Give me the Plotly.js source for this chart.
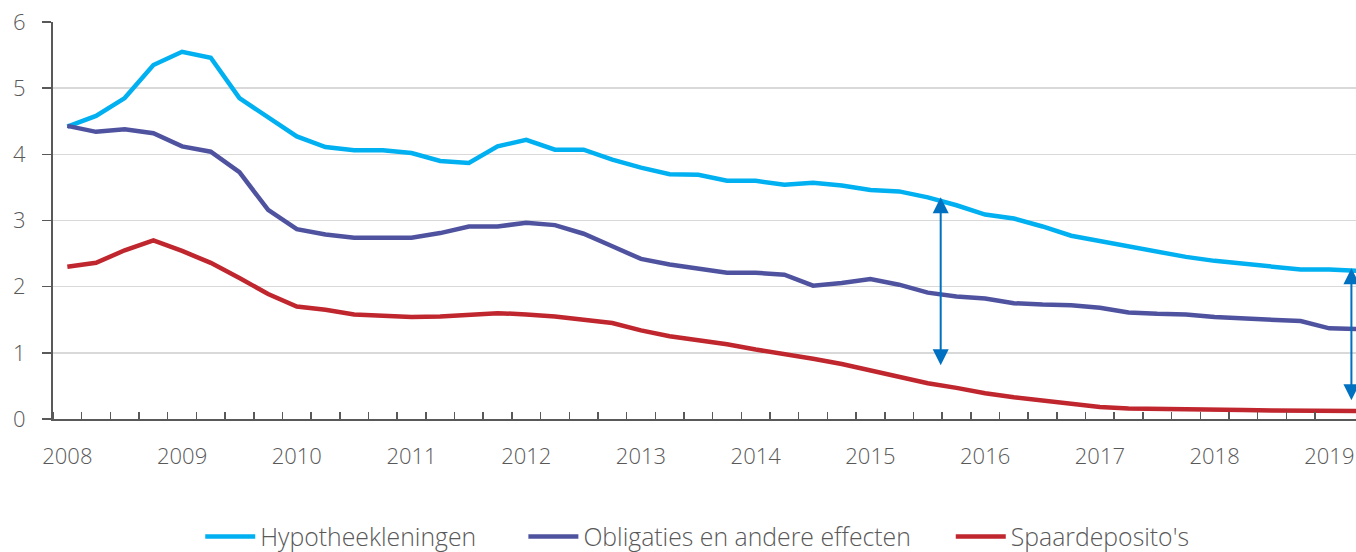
<!DOCTYPE html>
<html>
<head>
<meta charset="utf-8">
<script src="https://cdn.plot.ly/plotly-3.0.1.min.js"></script>
<style>
html,body{margin:0;padding:0;background:#fff;overflow:hidden;}
#chart{width:1356px;height:552px;}
</style>
</head>
<body>
<div id="chart"></div>
<script>
// Quarterly data 2008Q1 .. 2019Q2 (46 quarters)
const quarters = [];
for (let y = 2008; y <= 2019; y++) { for (let q = 1; q <= 4; q++) { if (y === 2019 && q > 2) break; quarters.push(y + 'Q' + q); } }

const yearLabels = ['2008','2009','2010','2011','2012','2013','2014','2015','2016','2017','2018','2019'];

const hypotheekleningen = [
  4.42, 4.58, 4.85, 5.35, 5.55, 5.46, 4.85, 4.55, 4.27, 4.11,
  4.06, 4.06, 4.02, 3.90, 3.87, 4.12, 4.22, 4.07, 4.07, 3.92,
  3.80, 3.70, 3.69, 3.60, 3.60, 3.54, 3.57, 3.53, 3.46, 3.44,
  3.35, 3.23, 3.09, 3.03, 2.91, 2.77, 2.69, 2.61, 2.52, 2.45,
  2.39, 2.35, 2.31, 2.26, 2.26, 2.24
];
const obligaties = [
  4.43, 4.34, 4.38, 4.32, 4.12, 4.04, 3.73, 3.16, 2.87, 2.79,
  2.74, 2.74, 2.74, 2.81, 2.91, 2.91, 2.965, 2.93, 2.80, 2.61,
  2.42, 2.335, 2.27, 2.21, 2.21, 2.18, 2.015, 2.055, 2.115, 2.03,
  1.91, 1.85, 1.82, 1.75, 1.73, 1.72, 1.68, 1.61, 1.59, 1.58,
  1.54, 1.52, 1.49, 1.48, 1.37, 1.36
];
const spaardeposito = [
  2.30, 2.36, 2.55, 2.70, 2.54, 2.36, 2.13, 1.89, 1.70, 1.65,
  1.58, 1.56, 1.54, 1.55, 1.58, 1.60, 1.58, 1.55, 1.50, 1.45,
  1.34, 1.25, 1.19, 1.13, 1.05, 0.985, 0.91, 0.83, 0.73, 0.63,
  0.54, 0.47, 0.39, 0.33, 0.28, 0.23, 0.18, 0.16, 0.15, 0.145,
  0.14, 0.135, 0.13, 0.13, 0.125, 0.12
];

const seriesNames = ['Hypotheekleningen', 'Obligaties en andere effecten', "Spaardeposito's"];
const seriesColors = ['#00B0F0', '#4F539F', '#C0262D'];

// Gap arrows: [quarter index position, top value, bottom value]
const gapArrows = [
  [30.45, 3.35, 0.79],
  [44.77, 2.28, 0.26]
];

const legendIds = ['legend', 'legend2', 'legend3'];
const legendX = [0.113, 0.361, 0.689];

const idx = quarters.map((_, i) => i);
const allSeries = [hypotheekleningen, obligaties, spaardeposito];
const traces = allSeries.map((vals, k) => ({
  x: idx, y: vals, type: 'scatter', mode: 'lines', name: seriesNames[k],
  line: {color: seriesColors[k], width: 4.5},
  legend: legendIds[k],
  text: quarters, hoverinfo: 'text+y'
}));

const majorVals = yearLabels.map((_, i) => i * 4);
const minorVals = [];
for (let i = 0; i < quarters.length - 1; i++) minorVals.push(i - 0.5);

const font = {family: '"Open Sans", "Noto Sans", sans-serif', color: '#595959', size: 22, weight: 300};
const legFont = Object.assign({}, font, {size: 24.8});

const annotations = gapArrows.map(a => ({
  x: a[0], y: a[1], ax: a[0], ay: a[2], xref: 'x', yref: 'y', axref: 'x', ayref: 'y',
  text: '', showarrow: true, arrowside: 'end+start', arrowhead: 2, arrowsize: 1.6,
  arrowwidth: 2, arrowcolor: '#0070C0'
}));

const layout = {
  width: 1356, height: 552,
  margin: {l: 53, r: 0, t: 22, b: 133, autoexpand: false},
  paper_bgcolor: '#fff', plot_bgcolor: '#fff',
  font: font,
  showlegend: true,
  xaxis: {
    range: [-0.5, 44.93], showgrid: false, zeroline: false,
    showline: true, linecolor: '#595959', linewidth: 2,
    tickmode: 'array', tickvals: majorVals, ticktext: yearLabels,
    ticks: '', ticklabelstandoff: 17, tickfont: font,
    minor: {tickmode: 'array', tickvals: minorVals, ticks: 'inside', ticklen: 7, tickwidth: 1.5, tickcolor: '#595959', showgrid: false}
  },
  yaxis: {
    range: [0, 6], dtick: 1, showgrid: true, gridcolor: '#D9D9D9', gridwidth: 1.5,
    zeroline: false, showline: true, linecolor: '#595959', linewidth: 2,
    ticks: 'outside', ticklen: 9, tickwidth: 1.5, tickcolor: '#595959',
    ticklabelstandoff: 12, tickfont: font
  },
  annotations: annotations
};
legendIds.forEach((id, k) => {
  layout[id] = {orientation: 'h', x: legendX[k], xanchor: 'left', y: -0.297, yanchor: 'middle', font: legFont, itemwidth: 50, bgcolor: 'rgba(0,0,0,0)'};
});

Plotly.newPlot('chart', traces, layout, {displayModeBar: false, staticPlot: true});
</script>
</body>
</html>
